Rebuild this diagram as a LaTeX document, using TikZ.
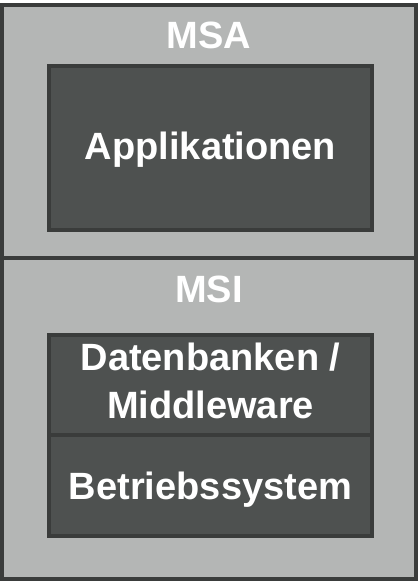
\documentclass[tikz,border=0pt]{standalone}
\usepackage{fontspec}
\setmainfont{Liberation Sans}
\definecolor{lightgr}{HTML}{B4B6B5}
\definecolor{darkgr}{HTML}{4E5150}
\definecolor{edgegr}{HTML}{3A3C3B}
\begin{document}
\begin{tikzpicture}[x=1pt,y=-1pt,
  outerbox/.style={draw=edgegr,fill=lightgr,line width=4pt},
  innerbox/.style={draw=edgegr,fill=darkgr,line width=4pt},
  lbl/.style={text=white,font=\fontsize{38}{48}\selectfont\bfseries,align=center,inner sep=0pt}]
\useasboundingbox (0,0) rectangle (418,581);
\fill[white] (0,0) rectangle (418,581);
\draw[outerbox] (2,5) rectangle (416,579);
\draw[edgegr,line width=4pt] (2,258) -- (416,258);
\draw[innerbox] (49,66) rectangle (372,230);
\draw[innerbox] (49,335) rectangle (372,435);
\draw[innerbox] (49,435) rectangle (372,536);
\node[lbl,anchor=base] (msa) at (209,48) {MSA};
\node[lbl,anchor=base] (msi) at (209,302) {MSI};
\node[lbl,anchor=base] (app) at (210.5,159) {Applikationen};
\node[lbl,anchor=base] (db) at (210.5,418) {Datenbanken /\\Middleware};
\node[lbl,anchor=base] (bs) at (210.5,499) {Betriebssystem};
\end{tikzpicture}
\end{document}
